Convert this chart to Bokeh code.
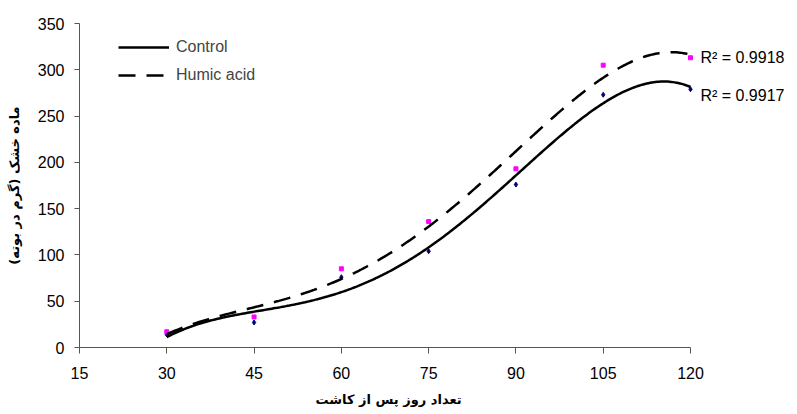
import numpy as np
from bokeh.plotting import figure
from bokeh.models import Range1d, FixedTicker, Legend, LegendItem, Title
from bokeh.core.properties import value
from bokeh.embed import file_html
from bokeh.resources import INLINE

# Data
days = [30, 45, 60, 75, 90, 105, 120]
control = [14, 27, 76, 104, 176, 273, 279]
humic = [17, 33, 85, 136, 193, 305, 313]
x_ticks = [15, 30, 45, 60, 75, 90, 105, 120]
y_ticks = [0, 50, 100, 150, 200, 250, 300, 350]
series_names = ["Control", "Humic acid"]
r2_labels = ["R\u00b2 = 0.9918", "R\u00b2 = 0.9917"]
r2_y = [313, 272]
x_title = "تعداد روز پس از کاشت"
y_title = "ماده خشک (گرم در بوته)"

TICK_FONT = "Liberation Sans"
FA_FONT = "DejaVu Sans"

X_MIN, X_MAX = 15, 120
W, H = 797, 414
LEFT, TOP, BOTTOM = 79, 23, 66
AXIS_RIGHT_PX = 690
x_end = X_MIN + (W - LEFT) * (X_MAX - X_MIN) / (AXIS_RIGHT_PX - LEFT)

p = figure(width=W, height=H, output_backend="svg", toolbar_location=None,
           x_range=Range1d(X_MIN, x_end), y_range=Range1d(0, 350),
           min_border_left=LEFT, min_border_right=0, min_border_top=TOP,
           min_border_bottom=BOTTOM)
p.outline_line_color = None
p.xgrid.visible = False
p.ygrid.visible = False
p.background_fill_color = "white"
p.border_fill_color = "white"

for ax in (p.xaxis[0], p.yaxis[0]):
    ax.axis_line_color = "#555555"
    ax.major_tick_line_color = "#555555"
    ax.minor_tick_line_color = None
    ax.major_tick_in = 0
    ax.major_label_text_font = TICK_FONT
    ax.major_label_text_font_size = "16px"
    ax.major_label_text_color = "black"
    ax.axis_label_text_font = FA_FONT
    ax.axis_label_text_font_size = "13px"
    ax.axis_label_text_font_style = "bold"
    ax.axis_label_text_color = "black"

p.xaxis.bounds = (X_MIN, X_MAX)
p.xaxis.ticker = FixedTicker(ticks=x_ticks)
p.yaxis.ticker = FixedTicker(ticks=y_ticks)
p.xaxis.major_tick_out = 6
p.yaxis.major_tick_out = 5
p.xaxis.major_label_standoff = 13
p.yaxis.major_label_standoff = 10
p.yaxis.axis_label = y_title
p.yaxis.axis_label_standoff = 13

# x-axis title centred under the axis (the frame extends past it for the R² texts)
p.add_layout(Title(text=x_title, align="left", offset=236, standoff=16,
                   text_font=FA_FONT, text_font_size="13px", text_font_style="bold",
                   text_color="black"), "below")

# data markers
p.scatter(days, control, marker="diamond", size=5, color="#000080")
p.scatter(days, humic, marker="square", size=4, color="#FF00FF")

# polynomial trendlines (order 4) fitted to the data
xs = np.linspace(days[0], days[-1], 300)
c_fit = np.polyval(np.polyfit(days, control, 4), xs)
h_fit = np.polyval(np.polyfit(days, humic, 4), xs)
r_c = p.line(xs, c_fit, line_color="black", line_width=2.5)
r_h = p.line(xs, h_fit, line_color="black", line_width=2.5, line_dash="17 11")

legend = Legend(items=[LegendItem(label=series_names[0], renderers=[r_c]),
                       LegendItem(label=series_names[1], renderers=[r_h])],
                location=(39, 262), padding=0, margin=0, spacing=8,
                glyph_width=51, glyph_height=20, label_height=20, label_standoff=7,
                label_text_font=TICK_FONT, label_text_font_size="16px",
                border_line_alpha=0, background_fill_alpha=0)
p.add_layout(legend)

p.text(x=[121.7, 121.7], y=r2_y, text=r2_labels, text_font=value(TICK_FONT),
       text_font_size="16px", text_baseline="middle", text_align="left",
       text_color="black")

open("out.html", "w").write(file_html(p, INLINE))
